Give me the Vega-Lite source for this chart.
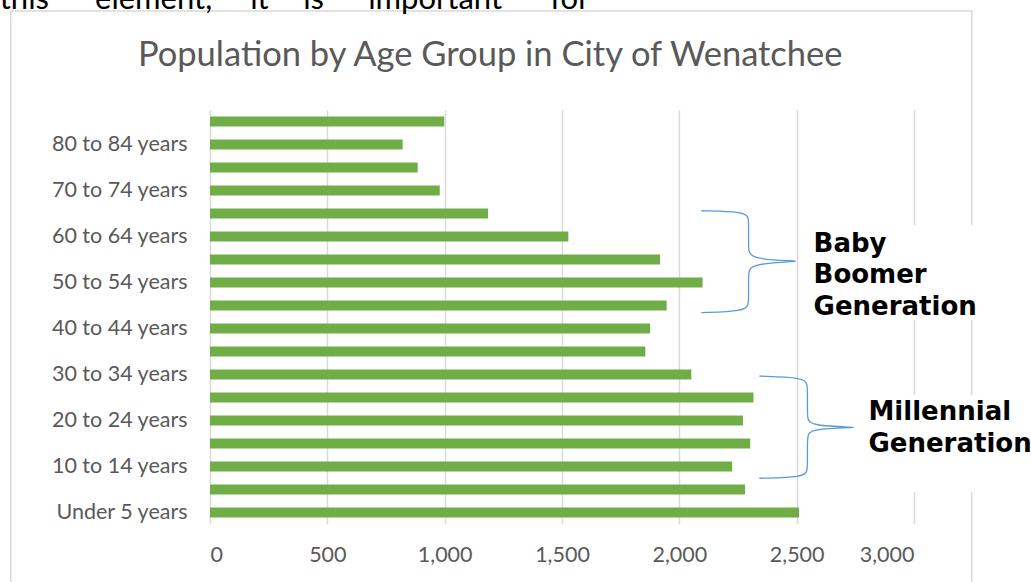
{
  "$schema": "https://vega.github.io/schema/vega-lite/v6.json",
  "width": 704,
  "height": 414,
  "autosize": {"type": "none"},
  "padding": {"left": 210, "top": 110, "right": 117, "bottom": 58},
  "background": "white",
  "config": {"view": {"stroke": null}, "font": "Lato"},
  "datasets": {
    "pop": [
      {"age": "85 years and over", "population": 998},
      {"age": "80 to 84 years", "population": 821},
      {"age": "75 to 79 years", "population": 885},
      {"age": "70 to 74 years", "population": 979},
      {"age": "65 to 69 years", "population": 1185},
      {"age": "60 to 64 years", "population": 1527},
      {"age": "55 to 59 years", "population": 1918},
      {"age": "50 to 54 years", "population": 2099},
      {"age": "45 to 49 years", "population": 1946},
      {"age": "40 to 44 years", "population": 1875},
      {"age": "35 to 39 years", "population": 1855},
      {"age": "30 to 34 years", "population": 2051},
      {"age": "25 to 29 years", "population": 2316},
      {"age": "20 to 24 years", "population": 2271},
      {"age": "15 to 19 years", "population": 2302},
      {"age": "10 to 14 years", "population": 2225},
      {"age": "5 to 9 years", "population": 2280},
      {"age": "Under 5 years", "population": 2510}
    ],
    "frame": [{"x1": -849, "x2": 3246, "y1": 21.8, "y2": -3.8}],
    "boxes": [
      {"x1": 2529, "x2": 3369, "y1": 12.5, "y2": 8.37},
      {"x1": 2772, "x2": 3600, "y1": 5.11, "y2": 0.89}
    ],
    "braces": [
      {"g": "boomer", "o": 1, "x": 2094, "y": 13.12},
      {"g": "boomer", "o": 2, "x": 2277, "y": 13.07},
      {"g": "boomer", "o": 3, "x": 2295, "y": 12.85},
      {"g": "boomer", "o": 4, "x": 2295, "y": 12.5},
      {"g": "boomer", "o": 5, "x": 2295, "y": 11.63},
      {"g": "boomer", "o": 6, "x": 2295, "y": 11.33},
      {"g": "boomer", "o": 7, "x": 2316, "y": 11.02},
      {"g": "boomer", "o": 8, "x": 2503, "y": 10.93},
      {"g": "boomer", "o": 9, "x": 2503, "y": 10.93},
      {"g": "boomer", "o": 10, "x": 2316, "y": 10.8},
      {"g": "boomer", "o": 11, "x": 2295, "y": 10.54},
      {"g": "boomer", "o": 12, "x": 2295, "y": 10.11},
      {"g": "boomer", "o": 13, "x": 2295, "y": 9.37},
      {"g": "boomer", "o": 14, "x": 2295, "y": 9.02},
      {"g": "boomer", "o": 15, "x": 2277, "y": 8.76},
      {"g": "boomer", "o": 16, "x": 2094, "y": 8.69},
      {"g": "millennial", "o": 1, "x": 2341, "y": 5.93},
      {"g": "millennial", "o": 2, "x": 2529, "y": 5.87},
      {"g": "millennial", "o": 3, "x": 2546, "y": 5.59},
      {"g": "millennial", "o": 4, "x": 2546, "y": 5.11},
      {"g": "millennial", "o": 5, "x": 2546, "y": 4.46},
      {"g": "millennial", "o": 6, "x": 2546, "y": 4.07},
      {"g": "millennial", "o": 7, "x": 2560, "y": 3.78},
      {"g": "millennial", "o": 8, "x": 2751, "y": 3.7},
      {"g": "millennial", "o": 9, "x": 2751, "y": 3.7},
      {"g": "millennial", "o": 10, "x": 2560, "y": 3.63},
      {"g": "millennial", "o": 11, "x": 2546, "y": 3.33},
      {"g": "millennial", "o": 12, "x": 2546, "y": 2.93},
      {"g": "millennial", "o": 13, "x": 2546, "y": 2.28},
      {"g": "millennial", "o": 14, "x": 2546, "y": 1.8},
      {"g": "millennial", "o": 15, "x": 2529, "y": 1.54},
      {"g": "millennial", "o": 16, "x": 2341, "y": 1.49}
    ],
    "notes": [
      {"text": "Baby", "x": 2572, "y": 11.33},
      {"text": "Boomer", "x": 2572, "y": 9.98},
      {"text": "Generation", "x": 2572, "y": 8.59},
      {"text": "Millennial", "x": 2806, "y": 4.02},
      {"text": "Generation", "x": 2806, "y": 2.63}
    ],
    "heading": [
      {"text": "Population by Age Group in City of Wenatchee", "x": 1194, "y": 19.41}
    ],
    "doc": [
      {"text": "this", "x": -896, "y": 21.9},
      {"text": "element,", "x": -490, "y": 21.9},
      {"text": "it", "x": 171, "y": 21.9},
      {"text": "is", "x": 397, "y": 21.9},
      {"text": "important", "x": 674, "y": 21.9},
      {"text": "for", "x": 1450, "y": 21.9}
    ]
  },
  "layer": [
    {
      "data": {"name": "frame"},
      "mark": {"type": "rect", "fillOpacity": 0, "stroke": "#d9d9d9", "strokeWidth": 1.5},
      "encoding": {
        "x": {"field": "x1", "type": "quantitative"},
        "x2": {"field": "x2"},
        "y": {"field": "y1", "type": "quantitative", "scale": {"domain": [-0.5, 17.5], "nice": false, "zero": false}, "axis": null},
        "y2": {"field": "y2"}
      }
    },
    {
      "data": {"name": "pop"},
      "mark": {"type": "bar", "color": "#70ad47"},
      "encoding": {
        "y": {
          "field": "age",
          "type": "nominal",
          "sort": ["85 years and over", "80 to 84 years", "75 to 79 years", "70 to 74 years", "65 to 69 years", "60 to 64 years", "55 to 59 years", "50 to 54 years", "45 to 49 years", "40 to 44 years", "35 to 39 years", "30 to 34 years", "25 to 29 years", "20 to 24 years", "15 to 19 years", "10 to 14 years", "5 to 9 years", "Under 5 years"],
          "scale": {"paddingInner": 0.56, "paddingOuter": 0.28},
          "axis": {
            "title": null,
            "values": ["80 to 84 years", "70 to 74 years", "60 to 64 years", "50 to 54 years", "40 to 44 years", "30 to 34 years", "20 to 24 years", "10 to 14 years", "Under 5 years"],
            "ticks": false,
            "tickSize": 0,
            "domain": false,
            "grid": false,
            "labelFont": "Lato",
            "labelFontSize": 21.5,
            "labelColor": "#595959",
            "labelPadding": 23
          }
        },
        "x": {
          "field": "population",
          "type": "quantitative",
          "scale": {"domain": [0, 3000], "nice": false},
          "axis": {
            "title": null,
            "values": [0, 500, 1000, 1500, 2000, 2500, 3000],
            "format": ",.0f",
            "ticks": false,
            "tickSize": 0,
            "domain": false,
            "grid": true,
            "gridColor": "#d9d9d9",
            "gridWidth": 1.5,
            "labelFont": "Lato",
            "labelFontSize": 21.5,
            "labelColor": "#595959",
            "labelBaseline": "middle",
            "labelPadding": 31
          }
        }
      }
    },
    {
      "data": {"name": "boxes"},
      "mark": {"type": "rect", "fill": "white", "strokeWidth": 0},
      "encoding": {
        "x": {"field": "x1", "type": "quantitative"},
        "x2": {"field": "x2"},
        "y": {"field": "y1", "type": "quantitative", "scale": {"domain": [-0.5, 17.5], "nice": false, "zero": false}, "axis": null},
        "y2": {"field": "y2"}
      }
    },
    {
      "data": {"name": "braces"},
      "mark": {"type": "line", "interpolate": "basis", "color": "#5b9bd5", "strokeWidth": 1.3},
      "encoding": {
        "x": {"field": "x", "type": "quantitative"},
        "y": {"field": "y", "type": "quantitative", "scale": {"domain": [-0.5, 17.5], "nice": false, "zero": false}, "axis": null},
        "order": {"field": "o"},
        "detail": {"field": "g"}
      }
    },
    {
      "data": {"name": "notes"},
      "mark": {"type": "text", "align": "left", "baseline": "alphabetic", "font": "DejaVu Sans", "fontWeight": "bold", "fontSize": 26, "color": "black"},
      "encoding": {
        "x": {"field": "x", "type": "quantitative"},
        "y": {"field": "y", "type": "quantitative", "scale": {"domain": [-0.5, 17.5], "nice": false, "zero": false}, "axis": null},
        "text": {"field": "text"}
      }
    },
    {
      "data": {"name": "heading"},
      "mark": {"type": "text", "align": "center", "baseline": "alphabetic", "font": "Lato", "fontSize": 34.5, "color": "#595959"},
      "encoding": {
        "x": {"field": "x", "type": "quantitative"},
        "y": {"field": "y", "type": "quantitative", "scale": {"domain": [-0.5, 17.5], "nice": false, "zero": false}, "axis": null},
        "text": {"field": "text"}
      }
    },
    {
      "data": {"name": "doc"},
      "mark": {"type": "text", "align": "left", "baseline": "alphabetic", "font": "Lato", "fontSize": 31, "color": "black"},
      "encoding": {
        "x": {"field": "x", "type": "quantitative"},
        "y": {"field": "y", "type": "quantitative", "scale": {"domain": [-0.5, 17.5], "nice": false, "zero": false}, "axis": null},
        "text": {"field": "text"}
      }
    }
  ],
  "resolve": {"scale": {"y": "independent"}}
}
